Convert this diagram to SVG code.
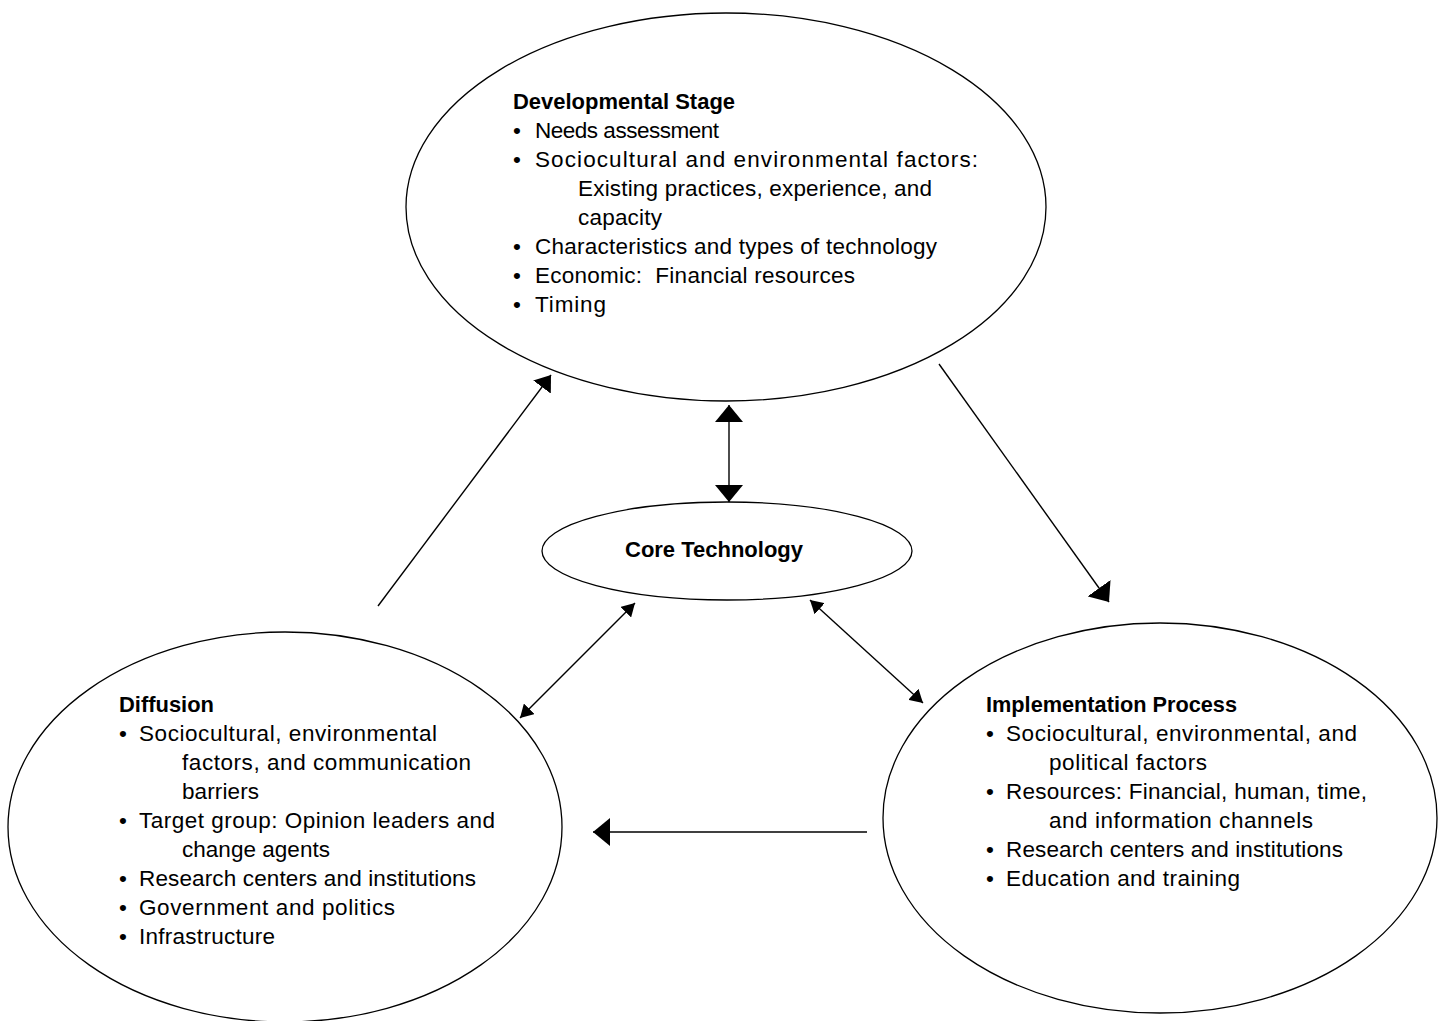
<svg xmlns="http://www.w3.org/2000/svg" width="1439" height="1021" viewBox="0 0 1439 1021">
<style>
.node{fill:#fff;stroke:#000;stroke-width:1.3}
.t{font-family:"Liberation Sans",Arial,sans-serif;font-size:22.5px;fill:#000}
.h{font-family:"Liberation Sans",Arial,sans-serif;font-size:22px;font-weight:bold;fill:#000}
.c{fill:none;stroke:#000;stroke-width:1.4}
</style>
<defs>
<marker id="lg" markerUnits="userSpaceOnUse" markerWidth="17" markerHeight="28" viewBox="0 0 17 28" refX="17" refY="14" orient="auto-start-reverse"><path d="M0,0 L17,14 L0,28 z" fill="#000"/></marker>
<marker id="md" markerUnits="userSpaceOnUse" markerWidth="15" markerHeight="22" viewBox="0 0 15 22" refX="15" refY="11" orient="auto-start-reverse"><path d="M0,0 L15,11 L0,22 z" fill="#000"/></marker>
<marker id="sm" markerUnits="userSpaceOnUse" markerWidth="13" markerHeight="15" viewBox="0 0 13 15" refX="13" refY="7.5" orient="auto-start-reverse"><path d="M0,0 L13,7.5 L0,15 z" fill="#000"/></marker>
</defs>
<rect width="1439" height="1021" fill="#fff"/>
<g id="developmental">
<ellipse class="node" cx="726" cy="207" rx="320" ry="194"/>
<text class="h" x="513" y="109" textLength="222" lengthAdjust="spacingAndGlyphs">Developmental Stage</text>
<text class="t" x="513" y="138">•</text><text class="t" x="535" y="138" textLength="184" lengthAdjust="spacing">Needs assessment</text>
<text class="t" x="513" y="167">•</text><text class="t" x="535" y="167" textLength="443" lengthAdjust="spacing">Sociocultural and environmental factors:</text>
<text class="t" x="578" y="196" textLength="354" lengthAdjust="spacing">Existing practices, experience, and</text>
<text class="t" x="578" y="225" textLength="84" lengthAdjust="spacing">capacity</text>
<text class="t" x="513" y="254">•</text><text class="t" x="535" y="254" textLength="402" lengthAdjust="spacing">Characteristics and types of technology</text>
<text class="t" x="513" y="283">•</text><text class="t" x="535" y="283" textLength="320" lengthAdjust="spacing" xml:space="preserve">Economic:  Financial resources</text>
<text class="t" x="513" y="312">•</text><text class="t" x="535" y="312" textLength="71" lengthAdjust="spacing">Timing</text>
</g>
<g id="core">
<ellipse class="node" cx="727" cy="551" rx="185" ry="49"/>
<text class="h" x="625" y="557" textLength="178" lengthAdjust="spacingAndGlyphs">Core Technology</text>
</g>
<g id="diffusion">
<ellipse class="node" cx="285" cy="827" rx="277" ry="195"/>
<text class="h" x="119" y="712" textLength="95" lengthAdjust="spacingAndGlyphs">Diffusion</text>
<text class="t" x="119" y="741">•</text><text class="t" x="139" y="741" textLength="298" lengthAdjust="spacing">Sociocultural, environmental</text>
<text class="t" x="182" y="770" textLength="289" lengthAdjust="spacing">factors, and communication</text>
<text class="t" x="182" y="799" textLength="77" lengthAdjust="spacing">barriers</text>
<text class="t" x="119" y="828">•</text><text class="t" x="139" y="828" textLength="356" lengthAdjust="spacing">Target group: Opinion leaders and</text>
<text class="t" x="182" y="857" textLength="148" lengthAdjust="spacing">change agents</text>
<text class="t" x="119" y="886">•</text><text class="t" x="139" y="886" textLength="337" lengthAdjust="spacing">Research centers and institutions</text>
<text class="t" x="119" y="915">•</text><text class="t" x="139" y="915" textLength="256" lengthAdjust="spacing">Government and politics</text>
<text class="t" x="119" y="944">•</text><text class="t" x="139" y="944" textLength="136" lengthAdjust="spacing">Infrastructure</text>
</g>
<g id="implementation">
<ellipse class="node" cx="1160" cy="818" rx="277" ry="195"/>
<text class="h" x="986" y="712" textLength="251" lengthAdjust="spacingAndGlyphs">Implementation Process</text>
<text class="t" x="986" y="741">•</text><text class="t" x="1006" y="741" textLength="351" lengthAdjust="spacing">Sociocultural, environmental, and</text>
<text class="t" x="1049" y="770" textLength="158" lengthAdjust="spacing">political factors</text>
<text class="t" x="986" y="799">•</text><text class="t" x="1006" y="799" textLength="361" lengthAdjust="spacing">Resources: Financial, human, time,</text>
<text class="t" x="1049" y="828" textLength="264" lengthAdjust="spacing">and information channels</text>
<text class="t" x="986" y="857">•</text><text class="t" x="1006" y="857" textLength="337" lengthAdjust="spacing">Research centers and institutions</text>
<text class="t" x="986" y="886">•</text><text class="t" x="1006" y="886" textLength="234" lengthAdjust="spacing">Education and training</text>
</g>
<g id="connectors">
<line class="c" x1="729" y1="405" x2="729" y2="502" marker-start="url(#lg)" marker-end="url(#lg)"/>
<line class="c" x1="635" y1="603" x2="520" y2="718" marker-start="url(#sm)" marker-end="url(#sm)"/>
<line class="c" x1="810" y1="600" x2="923" y2="703" marker-start="url(#sm)" marker-end="url(#sm)"/>
<line class="c" x1="378" y1="606" x2="551" y2="375" marker-end="url(#md)"/>
<line class="c" x1="939" y1="364" x2="1109" y2="602" marker-end="url(#lg)"/>
<line class="c" x1="867" y1="832" x2="593" y2="832" marker-end="url(#lg)"/>
</g>
</svg>
